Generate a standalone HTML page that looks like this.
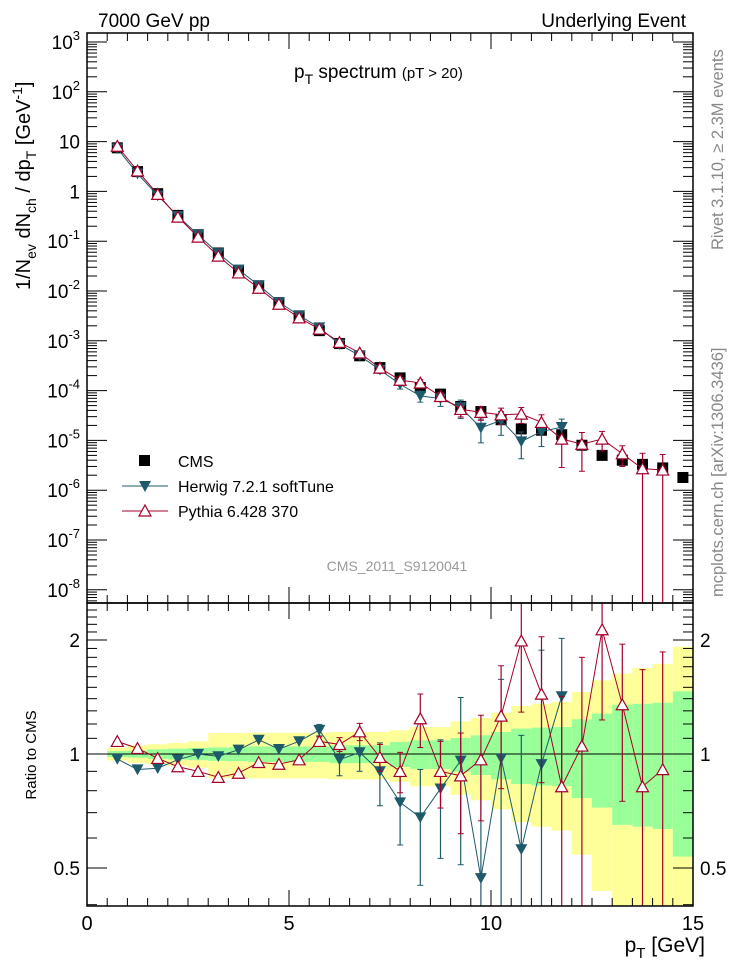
<!DOCTYPE html>
<html><head><meta charset="utf-8">
<style>
html,body{margin:0;padding:0;background:#fff;overflow:hidden;width:746px;height:972px;}
svg{display:block;font-family:"Liberation Sans",sans-serif;}
</style></head>
<body>
<svg id="chart" width="746" height="972" viewBox="0 0 746 972" xmlns="http://www.w3.org/2000/svg">
  <g id="bands"></g>
  <g id="ratioLines"></g>
  <g id="mainMarks"></g>
  <g id="axes"></g>
  <text x="98" y="27" font-size="19">7000 GeV pp</text>
  <text x="686" y="27" font-size="19" text-anchor="end">Underlying Event</text>
  <text x="294" y="78" font-size="19">p<tspan font-size="14" dy="6">T</tspan><tspan dy="-6"> spectrum </tspan><tspan font-size="15">(pT &gt; 20)</tspan></text>
  <text transform="translate(30,290) rotate(-90)" font-size="20">1/N<tspan font-size="14" dy="6">ev</tspan><tspan dy="-6"> dN</tspan><tspan font-size="14" dy="6">ch</tspan><tspan dy="-6"> / dp</tspan><tspan font-size="14" dy="6">T</tspan><tspan dy="-6"> [GeV</tspan><tspan font-size="14" dy="-8">-1</tspan><tspan dy="8">]</tspan></text>
  <text transform="translate(723,250) rotate(-90)" font-size="16.5" fill="#888">Rivet 3.1.10, ≥ 2.3M events</text>
  <text transform="translate(723,597) rotate(-90)" font-size="16.5" fill="#888">mcplots.cern.ch [arXiv:1306.3436]</text>
  <text x="397" y="571" font-size="14" fill="#999" text-anchor="middle">CMS_2011_S9120041</text>
  <text transform="translate(36,755) rotate(-90)" font-size="15" text-anchor="middle">Ratio to CMS</text>
  <text x="705" y="952" font-size="21" text-anchor="end">p<tspan font-size="15" dy="6">T</tspan><tspan dy="-6"> [GeV]</tspan></text>
  <g>
    <rect x="139" y="455" width="11" height="11" fill="#000"/>
    <text x="178" y="467" font-size="16">CMS</text>
    <line x1="122" y1="486" x2="168" y2="486" stroke="#1d5a6b" stroke-width="1"/>
    <path d="M139,481 L151,481 L145,492 Z" fill="#1d5a6b"/>
    <text x="178" y="492" font-size="16">Herwig 7.2.1 softTune</text>
    <line x1="122" y1="511" x2="168" y2="511" stroke="#a5002a" stroke-width="1"/>
    <path d="M145,505 L151,516 L139,516 Z" fill="#fff" stroke="#a5002a" stroke-width="1.2"/>
    <text x="178" y="517" font-size="16">Pythia 6.428 370</text>
  </g>
</svg>
<script>
const xCenters = [0.75,1.25,1.75,2.25,2.75,3.25,3.75,4.25,4.75,5.25,5.75,6.25,6.75,7.25,7.75,8.25,8.75,9.25,9.75,10.25,10.75,11.25,11.75,12.25,12.75,13.25,13.75,14.25,14.75];
const cmsValues = [7.5,2.5,0.9,0.33,0.135,0.058,0.026,0.012,0.0058,0.003,0.0016,0.00088,0.0005,0.00029,0.00018,0.000115,0.000085,0.000048,0.000038,0.000026,0.000017,0.000016,0.000013,0.000008,0.000005,0.000004,0.0000033,0.0000028,0.0000018];
const statErr = [0.018,0.022,0.029,0.033,0.037,0.041,0.043,0.047,0.047,0.047,0.047,0.054,0.054,0.054,0.076,0.087,0.087,0.102,0.12,0.143,0.167,0.174,0.178,0.235,0.278,0.35,0.357,0.366,0.464];
const totErr = [0.039,0.054,0.061,0.069,0.08,0.136,0.136,0.138,0.138,0.138,0.138,0.143,0.143,0.143,0.155,0.178,0.178,0.22,0.245,0.286,0.339,0.357,0.372,0.458,0.565,0.63,0.687,0.73,0.92];
const herwigRatio = [0.97,0.91,0.917,0.966,1.0,0.986,1.026,1.09,1.03,1.08,1.157,0.966,1.01,0.90,0.745,0.68,0.81,0.96,0.47,0.974,0.56,0.94,1.42];
const herwigErr = [0,0,0,0,0,0,0,0,0,0,0.04,0.09,0.11,0.17,0.17,0.23,0.28,0.45,0.5,0.6,0.56,0.94,0.6];
const herwigMainRelErr = [0,0,0,0,0,0,0,0,0,0,0.03,0.08,0.1,0.15,0.2,0.25,0.3,0.4,0.5,0.5,0.55,0.5,0.45];
const pythiaRatio = [1.08,1.035,0.974,0.926,0.90,0.868,0.89,0.95,0.94,0.966,1.08,1.06,1.145,0.98,0.90,1.24,0.90,0.876,0.966,1.26,1.99,1.44,0.82,1.05,2.13,1.35,0.82,0.91];
const pythiaErr = [0,0,0,0,0,0,0,0,0,0,0.03,0.045,0.06,0.08,0.11,0.2,0.18,0.26,0.3,0.45,0.7,0.6,0.6,0.75,0.9,0.6,0.85,0.95];
const xTickLabels = ["0","5","10","15"];
const yMainExps = [3,2,1,0,-1,-2,-3,-4,-5,-6,-7,-8];
const ratioTickLabels = ["0.5","1","2"];

const NS="http://www.w3.org/2000/svg";
const L=87,R=693,T=33,MB=603,RB=906;
const HC="#1d5a6b",PC="#a5002a";
function X(v){return L+(v/15)*(R-L);}
function YM(v){return 42+(3-Math.log10(v))*49.8;}
function YR(v){return 754-Math.log2(v)*114;}
function clampR(y){return Math.min(Math.max(y,MB),RB);}
function clampM(y){return Math.min(Math.max(y,T),MB);}
function mk(tag,attrs,parent){const e=document.createElementNS(NS,tag);for(const k in attrs)e.setAttribute(k,attrs[k]);parent.appendChild(e);return e;}
const bands=document.getElementById('bands');
const rl=document.getElementById('ratioLines');
const mm=document.getElementById('mainMarks');
const ax=document.getElementById('axes');

const defs=mk('defs',{},document.getElementById('chart'));
const cp=mk('clipPath',{id:'rclip'},defs);mk('rect',{x:L,y:MB,width:R-L,height:RB-MB},cp);
const cp2=mk('clipPath',{id:'mclip'},defs);mk('rect',{x:L,y:T,width:R-L,height:MB-T},cp2);
bands.setAttribute('clip-path','url(#rclip)');rl.setAttribute('clip-path','url(#rclip)');mm.setAttribute('clip-path','url(#mclip)');

xCenters.forEach((c,i)=>{
  const x0=X(c-0.25),x1=X(c+0.25);
  const lo=Math.max(1-totErr[i],0.01);
  const yt=clampR(YR(1+totErr[i])),yb=clampR(YR(lo));
  const y=mk('rect',{x:x0,y:yt,width:x1-x0,height:yb-yt,fill:'#ffff99'},bands);
  
  
  const gt=clampR(YR(1+statErr[i])),gb=clampR(YR(1-statErr[i]));
  const g=mk('rect',{x:x0,y:gt,width:x1-x0,height:gb-gt,fill:'#99ff99'},bands);
  
  
});
mk('line',{x1:L,y1:YR(1),x2:R,y2:YR(1),stroke:'#000','stroke-width':1},bands);

function downTri(x,y,s,fill,parent){return mk('path',{d:`M${x-s},${y-s*0.85} L${x+s},${y-s*0.85} L${x},${y+s*0.95} Z`,fill:fill},parent);}
function upTri(x,y,s,col,parent){return mk('path',{d:`M${x},${y-s*0.95} L${x+s},${y+s*0.85} L${x-s},${y+s*0.85} Z`,fill:'#fff',stroke:col,'stroke-width':1.2},parent);}

function series(ratio,err,mainErr,col,isUp,name){
  let pts=ratio.map((r,i)=>X(xCenters[i])+','+YR(r)).join(' ');
  mk('polyline',{points:pts,fill:'none',stroke:col,'stroke-width':1},rl);
  ratio.forEach((r,i)=>{
    const x=X(xCenters[i]);
    if(err[i]>0){
      const lo=Math.max(r-err[i],0.001);
      const yt=clampR(YR(r+err[i])),yb=clampR(YR(lo));
      mk('line',{x1:x,y1:yt,x2:x,y2:yb,stroke:col,'stroke-width':1.2},rl);
      if(yt>MB)mk('line',{x1:x-3,y1:yt,x2:x+3,y2:yt,stroke:col},rl);
      if(yb<RB)mk('line',{x1:x-3,y1:yb,x2:x+3,y2:yb,stroke:col},rl);
    }
    const m=isUp?upTri(x,YR(r),6,col,rl):downTri(x,YR(r),6,col,rl);
    
    
  });
  const vals=ratio.map((r,i)=>r*cmsValues[i]);
  pts=vals.map((v,i)=>X(xCenters[i])+','+YM(v)).join(' ');
  mk('polyline',{points:pts,fill:'none',stroke:col,'stroke-width':1},mm);
  vals.forEach((v,i)=>{
    const x=X(xCenters[i]);const e=mainErr?mainErr[i]*v:err[i]*cmsValues[i];
    if(e>0){
      const lo=v-e>0?clampM(YM(v-e)):MB;
      const hi=clampM(YM(v+e));
      mk('line',{x1:x,y1:hi,x2:x,y2:lo,stroke:col,'stroke-width':1.2},mm);
      mk('line',{x1:x-3,y1:hi,x2:x+3,y2:hi,stroke:col},mm);
      if(v-e>0)mk('line',{x1:x-3,y1:lo,x2:x+3,y2:lo,stroke:col},mm);
    }
  });
  return vals;
}
cmsValues.forEach((v,i)=>{
  const r=mk('rect',{x:X(xCenters[i])-5.5,y:YM(v)-5.5,width:11,height:11,fill:'#000'},mm);
  
  
});
const hv=series(herwigRatio,herwigErr,herwigMainRelErr,HC,false,'herwig');
const pv=series(pythiaRatio,pythiaErr,null,PC,true,'pythia');
hv.forEach((v,i)=>{const m=downTri(X(xCenters[i]),YM(v),6,HC,mm);
  
  });
pv.forEach((v,i)=>{const m=upTri(X(xCenters[i]),YM(v),6,PC,mm);
  
  });

mk('rect',{x:L,y:T,width:R-L,height:MB-T,fill:'none',stroke:'#000','stroke-width':1.5},ax);
mk('rect',{x:L,y:MB,width:R-L,height:RB-MB,fill:'none',stroke:'#000','stroke-width':1.5},ax);
for(let v=0;v<=15.001;v+=0.5){
  const x=X(v);const maj=Math.abs(v-Math.round(v/5)*5)<1e-6;const len=maj?16:8;
  [[T,1],[MB,-1],[MB,1],[RB,-1]].forEach(([y,d])=>mk('line',{x1:x,y1:y,x2:x,y2:y+d*len,stroke:'#000'},ax));
}
xTickLabels.forEach((s,i)=>{const t=mk('text',{x:X(i*5),y:930,'font-size':20,'text-anchor':'middle'},ax);t.textContent=s;
  
  });
for(let e=-9;e<=3;e++){
  for(let k=1;k<10;k++){
    const v=k*Math.pow(10,e);const y=YM(v);if(y<T||y>MB)continue;
    const len=k===1?20:10;
    mk('line',{x1:L,y1:y,x2:L+len,y2:y,stroke:'#000'},ax);
    mk('line',{x1:R,y1:y,x2:R-len,y2:y,stroke:'#000'},ax);
  }
}
yMainExps.forEach(e=>{
  const t=mk('text',{x:80,y:YM(Math.pow(10,e))+7,'font-size':19,'text-anchor':'end'},ax);
  
  
  if(e===0){t.textContent='1';}
  else if(e===1){t.textContent='10';}
  else{t.textContent='10';const s=mk('tspan',{'font-size':13,dy:-9},t);s.textContent=String(e);}
});
[0.4,0.5,0.6,0.7,0.8,0.9,1,1.1,1.2,1.3,1.4,1.5,1.6,1.7,1.8,1.9,2,2.1,2.2,2.3,2.4].forEach(v=>{
  const y=YR(v);if(y<MB||y>RB)return;
  const maj=(v===0.5||v===1||v===2);const len=maj?20:10;
  mk('line',{x1:L,y1:y,x2:L+len,y2:y,stroke:'#000'},ax);
  mk('line',{x1:R,y1:y,x2:R-len,y2:y,stroke:'#000'},ax);
});
ratioTickLabels.forEach(s=>{
  const v=parseFloat(s);
  const a=mk('text',{x:80,y:YR(v)+7,'font-size':19,'text-anchor':'end'},ax);a.textContent=s;
  
  
  const b=mk('text',{x:700,y:YR(v)+7,'font-size':19},ax);b.textContent=s;
  
  
});
</script>
</body></html>
